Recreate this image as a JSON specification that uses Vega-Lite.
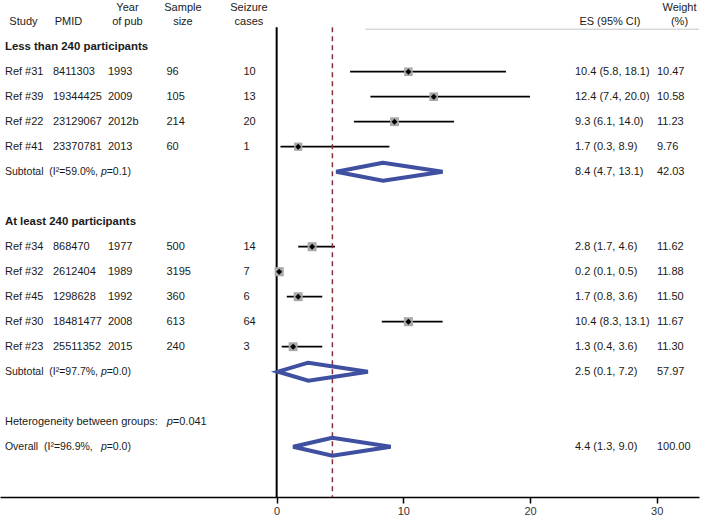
{
  "$schema": "https://vega.github.io/schema/vega-lite/v6.json",
  "width": 699,
  "height": 497,
  "autosize": {"type": "pad"},
  "padding": 0,
  "background": "white",
  "config": {
    "view": {"stroke": null},
    "font": "Liberation Sans",
    "text": {"font": "Liberation Sans", "fontSize": 11, "color": "#1a1a1a", "baseline": "middle"},
    "axisX": {"domainColor": "black", "domainWidth": 1.5, "tickColor": "black", "tickWidth": 1.5, "tickSize": 6, "grid": false, "labelFontSize": 11, "labelColor": "#333", "labelFont": "Liberation Sans"}
  },
  "datasets": {
    "studies": [
      {"row": 1, "study": "Ref #31", "pmid": "8411303", "year": "1993", "n": "96", "cases": "10", "es": 10.4, "lo": 5.8, "hi": 18.1, "w": 10.47, "esci": "10.4 (5.8, 18.1)", "wt": "10.47"},
      {"row": 2, "study": "Ref #39", "pmid": "19344425", "year": "2009", "n": "105", "cases": "13", "es": 12.4, "lo": 7.4, "hi": 20.0, "w": 10.58, "esci": "12.4 (7.4, 20.0)", "wt": "10.58"},
      {"row": 3, "study": "Ref #22", "pmid": "23129067", "year": "2012b", "n": "214", "cases": "20", "es": 9.3, "lo": 6.1, "hi": 14.0, "w": 11.23, "esci": "9.3 (6.1, 14.0)", "wt": "11.23"},
      {"row": 4, "study": "Ref #41", "pmid": "23370781", "year": "2013", "n": "60", "cases": "1", "es": 1.7, "lo": 0.3, "hi": 8.9, "w": 9.76, "esci": "1.7 (0.3, 8.9)", "wt": "9.76"},
      {"row": 8, "study": "Ref #34", "pmid": "868470", "year": "1977", "n": "500", "cases": "14", "es": 2.8, "lo": 1.7, "hi": 4.6, "w": 11.62, "esci": "2.8 (1.7, 4.6)", "wt": "11.62"},
      {"row": 9, "study": "Ref #32", "pmid": "2612404", "year": "1989", "n": "3195", "cases": "7", "es": 0.2, "lo": 0.1, "hi": 0.5, "w": 11.88, "esci": "0.2 (0.1, 0.5)", "wt": "11.88"},
      {"row": 10, "study": "Ref #45", "pmid": "1298628", "year": "1992", "n": "360", "cases": "6", "es": 1.7, "lo": 0.8, "hi": 3.6, "w": 11.50, "esci": "1.7 (0.8, 3.6)", "wt": "11.50"},
      {"row": 11, "study": "Ref #30", "pmid": "18481477", "year": "2008", "n": "613", "cases": "64", "es": 10.4, "lo": 8.3, "hi": 13.1, "w": 11.67, "esci": "10.4 (8.3, 13.1)", "wt": "11.67"},
      {"row": 12, "study": "Ref #23", "pmid": "25511352", "year": "2015", "n": "240", "cases": "3", "es": 1.3, "lo": 0.4, "hi": 3.6, "w": 11.30, "esci": "1.3 (0.4, 3.6)", "wt": "11.30"}
    ],
    "summ": [
      {"row": 5, "pre": "Subtotal\u00a0\u00a0(I²=59.0%,", "post": "=0.1)", "esci": "8.4 (4.7, 13.1)", "wt": "42.03"},
      {"row": 13, "pre": "Subtotal\u00a0\u00a0(I²=97.7%,", "post": "=0.0)", "esci": "2.5 (0.1, 7.2)", "wt": "57.97"},
      {"row": 16, "pre": "Overall\u00a0\u00a0(I²=96.9%,", "post": "=0.0)", "esci": "4.4 (1.3, 9.0)", "wt": "100.00"}
    ],
    "het": [
      {"row": 15, "pre": "Heterogeneity between groups:", "post": "=0.041"}
    ],
    "heads": [
      {"row": 0, "label": "Less than 240 participants"},
      {"row": 7, "label": "At least 240 participants"}
    ],
    "hdr": [
      {"row": -1.56, "study": "", "pmid": "", "year": "Year", "n": "Sample", "cases": "Seizure", "es": "", "wt": "Weight"},
      {"row": -1.0, "study": "Study", "pmid": "PMID", "year": "of pub", "n": "size", "cases": "cases", "es": "ES (95% CI)", "wt": "(%)"}
    ],
    "diam": [
      {"grp": "s1", "ord": 1, "vx": 4.7, "vrow": 5},
      {"grp": "s1", "ord": 2, "vx": 8.4, "vrow": 4.64},
      {"grp": "s1", "ord": 3, "vx": 13.1, "vrow": 5},
      {"grp": "s1", "ord": 4, "vx": 8.4, "vrow": 5.36},
      {"grp": "s1", "ord": 5, "vx": 4.7, "vrow": 5},
      {"grp": "s1", "ord": 6, "vx": 8.4, "vrow": 4.64},
      {"grp": "s2", "ord": 1, "vx": 0.1, "vrow": 13},
      {"grp": "s2", "ord": 2, "vx": 2.5, "vrow": 12.64},
      {"grp": "s2", "ord": 3, "vx": 7.2, "vrow": 13},
      {"grp": "s2", "ord": 4, "vx": 2.5, "vrow": 13.36},
      {"grp": "s2", "ord": 5, "vx": 0.1, "vrow": 13},
      {"grp": "s2", "ord": 6, "vx": 2.5, "vrow": 12.64},
      {"grp": "ov", "ord": 1, "vx": 1.3, "vrow": 16},
      {"grp": "ov", "ord": 2, "vx": 4.4, "vrow": 15.64},
      {"grp": "ov", "ord": 3, "vx": 9.0, "vrow": 16},
      {"grp": "ov", "ord": 4, "vx": 4.4, "vrow": 16.36},
      {"grp": "ov", "ord": 5, "vx": 1.3, "vrow": 16},
      {"grp": "ov", "ord": 6, "vx": 4.4, "vrow": 15.64}
    ]
  },
  "layer": [
    {
      "data": {"name": "studies"},
      "mark": {"type": "rule", "color": "black", "strokeWidth": 1.8},
      "encoding": {
        "x": {
          "field": "lo", "type": "quantitative",
          "scale": {"domain": [-21.84, 33.34], "nice": false, "zero": false},
          "axis": {"values": [0, 10, 20, 30], "title": null, "grid": false, "domainColor": "black", "domainWidth": 1.5, "tickColor": "black", "tickWidth": 1.5, "tickSize": 6, "labelFontSize": 11, "labelColor": "#333", "labelFont": "Liberation Sans", "labelPadding": 2, "format": "d", "labelFlush": false}
        },
        "x2": {"field": "hi"},
        "y": {"field": "row", "type": "quantitative", "scale": {"domain": [-1.868, 18.012], "reverse": true, "nice": false, "zero": false}, "axis": null}
      }
    },
    {
      "data": {"values": [{}]},
      "mark": {"type": "rule", "color": "#c4c4c4", "strokeWidth": 1},
      "encoding": {"x": {"datum": 7}, "x2": {"datum": 33.34}, "y": {"datum": -0.7}}
    },
    {
      "data": {"values": [{}]},
      "mark": {"type": "rule", "color": "black", "strokeWidth": 2},
      "encoding": {"x": {"datum": 0}, "y": {"datum": -0.78}, "y2": {"datum": 18.012}}
    },
    {
      "data": {"values": [{}]},
      "mark": {"type": "rule", "color": "#8b2d3a", "strokeWidth": 1.5, "strokeDash": [5, 4]},
      "encoding": {"x": {"datum": 4.4}, "y": {"datum": -0.78}, "y2": {"datum": 18.012}}
    },
    {
      "data": {"name": "studies"},
      "mark": {"type": "square", "filled": true, "color": "#a9a9a9", "opacity": 1},
      "encoding": {
        "x": {"field": "es", "type": "quantitative"},
        "y": {"field": "row", "type": "quantitative"},
        "size": {"field": "w", "type": "quantitative", "scale": {"domain": [0, 12], "range": [0, 84]}, "legend": null}
      }
    },
    {
      "data": {"name": "studies"},
      "mark": {"type": "point", "shape": "diamond", "filled": true, "color": "black", "opacity": 1, "size": 36},
      "encoding": {
        "x": {"field": "es", "type": "quantitative"},
        "y": {"field": "row", "type": "quantitative"}
      }
    },
    {
      "data": {"name": "diam"},
      "mark": {"type": "line", "color": "#4050a0", "strokeWidth": 4},
      "encoding": {
        "x": {"field": "vx", "type": "quantitative"},
        "y": {"field": "vrow", "type": "quantitative"},
        "detail": {"field": "grp"},
        "order": {"field": "ord", "type": "quantitative"}
      }
    },
    {"data": {"name": "studies"}, "mark": {"type": "text", "align": "left"}, "encoding": {"x": {"datum": -21.45}, "y": {"field": "row", "type": "quantitative"}, "text": {"field": "study"}}},
    {"data": {"name": "studies"}, "mark": {"type": "text", "align": "left"}, "encoding": {"x": {"datum": -17.66}, "y": {"field": "row", "type": "quantitative"}, "text": {"field": "pmid"}}},
    {"data": {"name": "studies"}, "mark": {"type": "text", "align": "left"}, "encoding": {"x": {"datum": -13.32}, "y": {"field": "row", "type": "quantitative"}, "text": {"field": "year"}}},
    {"data": {"name": "studies"}, "mark": {"type": "text", "align": "left"}, "encoding": {"x": {"datum": -8.7}, "y": {"field": "row", "type": "quantitative"}, "text": {"field": "n"}}},
    {"data": {"name": "studies"}, "mark": {"type": "text", "align": "left"}, "encoding": {"x": {"datum": -2.62}, "y": {"field": "row", "type": "quantitative"}, "text": {"field": "cases"}}},
    {"data": {"name": "studies"}, "mark": {"type": "text", "align": "left"}, "encoding": {"x": {"datum": 23.55}, "y": {"field": "row", "type": "quantitative"}, "text": {"field": "esci"}}},
    {"data": {"name": "studies"}, "mark": {"type": "text", "align": "left"}, "encoding": {"x": {"datum": 30.02}, "y": {"field": "row", "type": "quantitative"}, "text": {"field": "wt"}}},
    {"data": {"name": "summ"}, "mark": {"type": "text", "align": "left", "fontSize": 10.5}, "encoding": {"x": {"datum": -21.45}, "y": {"field": "row", "type": "quantitative"}, "text": {"field": "pre"}}},
    {"data": {"name": "summ"}, "mark": {"type": "text", "align": "left", "fontStyle": "italic", "fontSize": 10.5}, "encoding": {"x": {"datum": -13.87}, "y": {"field": "row", "type": "quantitative"}, "text": {"value": "p"}}},
    {"data": {"name": "summ"}, "mark": {"type": "text", "align": "left", "fontSize": 10.5}, "encoding": {"x": {"datum": -13.42}, "y": {"field": "row", "type": "quantitative"}, "text": {"field": "post"}}},
    {"data": {"name": "summ"}, "mark": {"type": "text", "align": "left"}, "encoding": {"x": {"datum": 23.55}, "y": {"field": "row", "type": "quantitative"}, "text": {"field": "esci"}}},
    {"data": {"name": "summ"}, "mark": {"type": "text", "align": "left"}, "encoding": {"x": {"datum": 30.02}, "y": {"field": "row", "type": "quantitative"}, "text": {"field": "wt"}}},
    {"data": {"name": "het"}, "mark": {"type": "text", "align": "left"}, "encoding": {"x": {"datum": -21.45}, "y": {"field": "row", "type": "quantitative"}, "text": {"field": "pre"}}},
    {"data": {"name": "het"}, "mark": {"type": "text", "align": "left", "fontStyle": "italic"}, "encoding": {"x": {"datum": -8.68}, "y": {"field": "row", "type": "quantitative"}, "text": {"value": "p"}}},
    {"data": {"name": "het"}, "mark": {"type": "text", "align": "left"}, "encoding": {"x": {"datum": -8.2}, "y": {"field": "row", "type": "quantitative"}, "text": {"field": "post"}}},
    {"data": {"name": "heads"}, "mark": {"type": "text", "align": "left", "fontWeight": "bold", "fontSize": 11.4}, "encoding": {"x": {"datum": -21.45}, "y": {"field": "row", "type": "quantitative"}, "text": {"field": "label"}}},
    {"data": {"name": "hdr"}, "mark": {"type": "text", "align": "center"}, "encoding": {"x": {"datum": -19.99}, "y": {"field": "row", "type": "quantitative"}, "text": {"field": "study"}}},
    {"data": {"name": "hdr"}, "mark": {"type": "text", "align": "center"}, "encoding": {"x": {"datum": -16.44}, "y": {"field": "row", "type": "quantitative"}, "text": {"field": "pmid"}}},
    {"data": {"name": "hdr"}, "mark": {"type": "text", "align": "center"}, "encoding": {"x": {"datum": -11.78}, "y": {"field": "row", "type": "quantitative"}, "text": {"field": "year"}}},
    {"data": {"name": "hdr"}, "mark": {"type": "text", "align": "center"}, "encoding": {"x": {"datum": -7.4}, "y": {"field": "row", "type": "quantitative"}, "text": {"field": "n"}}},
    {"data": {"name": "hdr"}, "mark": {"type": "text", "align": "center"}, "encoding": {"x": {"datum": -2.19}, "y": {"field": "row", "type": "quantitative"}, "text": {"field": "cases"}}},
    {"data": {"name": "hdr"}, "mark": {"type": "text", "align": "center"}, "encoding": {"x": {"datum": 26.31}, "y": {"field": "row", "type": "quantitative"}, "text": {"field": "es"}}},
    {"data": {"name": "hdr"}, "mark": {"type": "text", "align": "center"}, "encoding": {"x": {"datum": 31.8}, "y": {"field": "row", "type": "quantitative"}, "text": {"field": "wt"}}}
  ]
}
